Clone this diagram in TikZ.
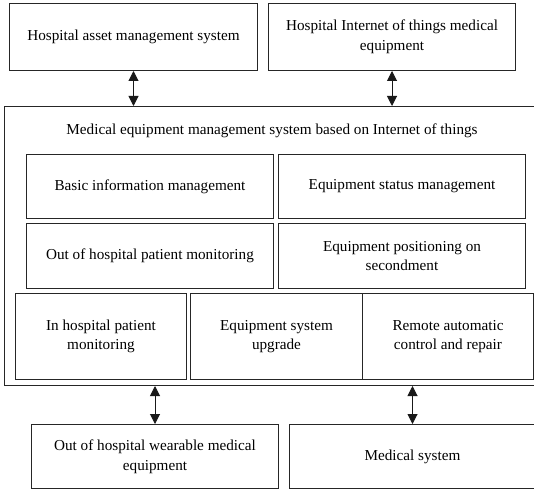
\documentclass[tikz,border=0pt]{standalone}
\usepackage{fontspec}
\setmainfont{Liberation Serif}
\usetikzlibrary{arrows.meta}
\begin{document}
\begin{tikzpicture}[x=1pt,y=-1pt,
  box/.style={draw=black!85, line width=1pt, anchor=north west, inner sep=0pt,
    align=center, font=\fontsize{15.2}{19.7}\selectfont},
  lbl/.style={align=center, inner sep=0pt, font=\fontsize{15.2}{19.7}\selectfont},
  link/.style={line width=1pt, draw=black!90,
    {Triangle[length=10pt,width=10pt]}-{Triangle[length=10pt,width=10pt]}}]
\useasboundingbox (0,0) rectangle (534,489);
\clip (0,0) rectangle (534,489);

% outer systems
\node[box, minimum width=248pt, minimum height=67pt] (asset) at (9,3)
  {Hospital asset management system};
\node[box, minimum width=247pt, minimum height=67pt] (iot) at (268,3)
  {Hospital Internet of things medical\\equipment};

% the IoT management system and its modules
\node[box, minimum width=537pt, minimum height=279pt] (core) at (4,106) {};
\node[lbl] (coretitle) at (272,131)
  {Medical equipment management system based on Internet of things};

\node[box, minimum width=247pt, minimum height=64pt] (basic) at (26,154)
  {Basic information management};
\node[box, minimum width=247pt, minimum height=64pt] (status) at (278,154)
  {Equipment status management};
\node[box, minimum width=247pt, minimum height=65pt] (outmon) at (26,223)
  {Out of hospital patient monitoring};
\node[box, minimum width=247pt, minimum height=65pt] (position) at (278,223)
  {Equipment positioning on\\secondment};

\node[box, minimum width=171pt, minimum height=86pt] (inmon) at (15,293)
  {In hospital patient\\monitoring};
\node[box, minimum width=172pt, minimum height=86pt] (upgrade) at (190,293)
  {Equipment system\\upgrade};
\node[box, minimum width=171pt, minimum height=86pt] (remote) at (362,293)
  {Remote automatic\\control and repair};

% connected devices and systems
\node[box, minimum width=247pt, minimum height=64pt] (wear) at (31,424)
  {Out of hospital wearable medical\\equipment};
\node[box, minimum width=246pt, minimum height=64pt] (medsys) at (289,424)
  {Medical system};

% data exchange links
\draw[link] (asset.south) -- (asset.south |- core.north);
\draw[link] (iot.south) -- (iot.south |- core.north);
\draw[link] (core.south -| wear.north) -- (wear.north);
\draw[link] (core.south -| medsys.north) -- (medsys.north);
\end{tikzpicture}
\end{document}
